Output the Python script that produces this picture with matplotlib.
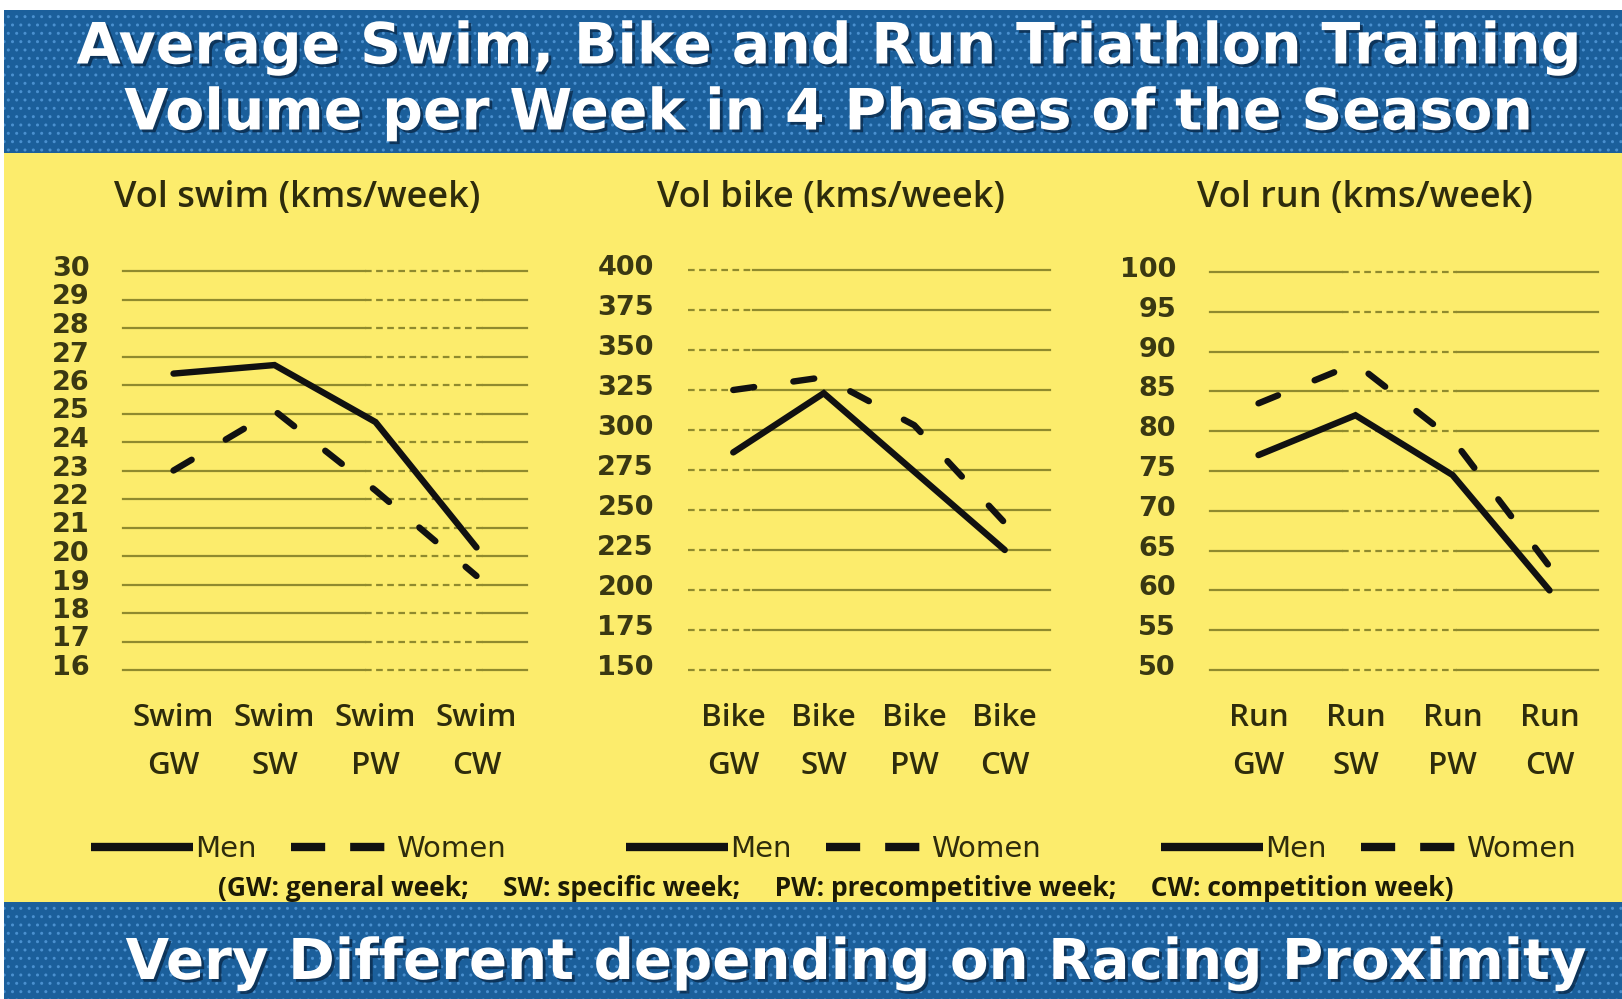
import numpy as np
import matplotlib
matplotlib.use("Agg")
import matplotlib.pyplot as plt
from matplotlib.patches import Rectangle
from matplotlib.lines import Line2D
import matplotlib.patheffects as pe
import matplotlib.transforms as mtransforms

# weekly volumes (kms/week)
phases = ['GW', 'SW', 'PW', 'CW']
swim_men = [26.4, 26.7, 24.7, 20.3]
swim_women = [23.0, 25.1, 22.3, 19.3]
bike_men = [286, 323, 274, 225]
bike_women = [325, 333, 303, 242]
run_men = [77, 82, 74.5, 60]
run_women = [83.5, 88.5, 79, 63]

titles = ['Vol swim (kms/week)', 'Vol bike (kms/week)', 'Vol run (kms/week)']
sports = ['Swim', 'Bike', 'Run']
yticks = [np.arange(16, 31, 1), np.arange(150, 401, 25), np.arange(50, 101, 5)]

W, H = 1622, 999
yellow = '#fcec6c'
blue = '#1b5f9b'
txt = '#2e2c0c'
gridc = '#8f8a2e'

fig = plt.figure(figsize=(W / 100, H / 100), dpi=100)
fig.patch.set_facecolor('white')

def px(x0, y0, x1, y1):
    # pixel box -> figure fraction rect
    return [x0 / W, 1 - y1 / H, (x1 - x0) / W, (y1 - y0) / H]

# background bands
fig.patches.append(Rectangle((4 / W, 1 - 153 / H), 1, 143 / H, transform=fig.transFigure,
                             facecolor=blue, edgecolor='#4a90cf', hatch='..', lw=0, zorder=-5))
fig.patches.append(Rectangle((4 / W, 1 - 902 / H), 1, 749 / H, transform=fig.transFigure,
                             facecolor=yellow, lw=0, zorder=-5))
fig.patches.append(Rectangle((4 / W, 0), 1, 97 / H, transform=fig.transFigure,
                             facecolor=blue, edgecolor='#4a90cf', hatch='..', lw=0, zorder=-5))

shadow = [pe.withSimplePatchShadow(offset=(2, -2), shadow_rgbFace='#0a2a4a', alpha=0.8)]
fig.text(830 / W, 1 - 48 / H, 'Average Swim, Bike and Run Triathlon Training', ha='center', va='center',
         fontsize=41, fontweight='bold', color='white', path_effects=shadow)
fig.text(830 / W, 1 - 114 / H, 'Volume per Week in 4 Phases of the Season', ha='center', va='center',
         fontsize=41, fontweight='bold', color='white', path_effects=shadow)
fig.text(856 / W, 1 - 964 / H, 'Very Different depending on Racing Proximity', ha='center', va='center',
         fontsize=40.5, fontweight='bold', color='white', path_effects=shadow)

boxes = [(123, 271, 527, 670), (688, 270, 1050, 670), (1210, 272, 1598, 670)]
pads = [24, 24.5, 24.5]
grid_parts = [
    [(0, 0.6, '-'), (0.6, 0.89, '--'), (0.89, 1, '-')],
    [(0, 0.18, '--'), (0.18, 1, '-')],
    [(0, 0.34, '-'), (0.34, 0.636, '--'), (0.636, 1, '-')],
]
title_x = [297, 831, 1365]
legend_x = [298, 833, 1368]
men_all = [swim_men, bike_men, run_men]
women_all = [swim_women, bike_women, run_women]

# y labels sit a little above their grid lines
lift = mtransforms.ScaledTranslation(0, 5 / 100, fig.dpi_scale_trans)

x = np.arange(len(phases))
for i in range(3):
    ax = fig.add_axes(px(*boxes[i]))
    ax.patch.set_alpha(0)
    for s in ax.spines.values():
        s.set_visible(False)
    ax.set_xlim(-0.5, 3.5)
    ax.set_ylim(yticks[i][0], yticks[i][-1])
    ax.set_yticks(yticks[i])
    for yv in yticks[i]:
        for a, b, ls in grid_parts[i]:
            ax.axhline(yv, a, b, color=gridc, lw=1.6, ls=ls, dashes=(3, 2) if ls == '--' else (None, None),
                       clip_on=False, zorder=1)
    ax.plot(x, men_all[i], color='#111111', lw=4.6, solid_capstyle='round',
            solid_joinstyle='miter', clip_on=False, zorder=3)
    ax.plot(x, women_all[i], color='#111111', lw=4.6, ls=(0, (3.3, 6.2)),
            dash_capstyle='round', clip_on=False, zorder=3)
    ax.set_xticks(x)
    ax.set_xticklabels([sports[i] + '\n' + p for p in phases], linespacing=1.78)
    ax.tick_params(axis='x', length=0, pad=24, labelsize=22.5, labelcolor=txt)
    ax.tick_params(axis='y', length=0, pad=pads[i], labelsize=19.5, labelcolor='#3a3812')
    for lab in ax.get_xticklabels():
        lab.set_family('Open Sans')
        lab.set_fontweight('semibold')
    for lab in ax.get_yticklabels():
        lab.set_family('DejaVu Sans')
        lab.set_fontweight('bold')
        lab.set_transform(lab.get_transform() + lift)
    fig.text(title_x[i] / W, 1 - 198 / H, titles[i], ha='center', va='center', fontsize=26,
             family='Open Sans', fontweight='semibold', color=txt)

    handles = [Line2D([], [], color='#111111', lw=6, solid_capstyle='butt'),
               Line2D([], [], color='#111111', lw=6, ls=(0, (4.1, 3.0)), dash_capstyle='butt')]
    ax.legend(handles, ['Men', 'Women'], loc='center', bbox_to_anchor=(legend_x[i] / W, 1 - 849 / H),
              bbox_transform=fig.transFigure, ncol=2, frameon=False, handlelength=3.5,
              handletextpad=0.1, columnspacing=1.15,
              prop={'family': ['Liberation Sans Narrow', 'DejaVu Sans'], 'size': 21}, labelcolor=txt)

fig.text(836 / W, 1 - 888 / H,
         '(GW: general week;     SW: specific week;     PW: precompetitive week;     CW: competition week)',
         ha='center', va='center', fontsize=19, fontweight='bold', color='#1c1a06',
         family=['Open Sans', 'DejaVu Sans'])

fig.savefig('out.png', dpi=100)
